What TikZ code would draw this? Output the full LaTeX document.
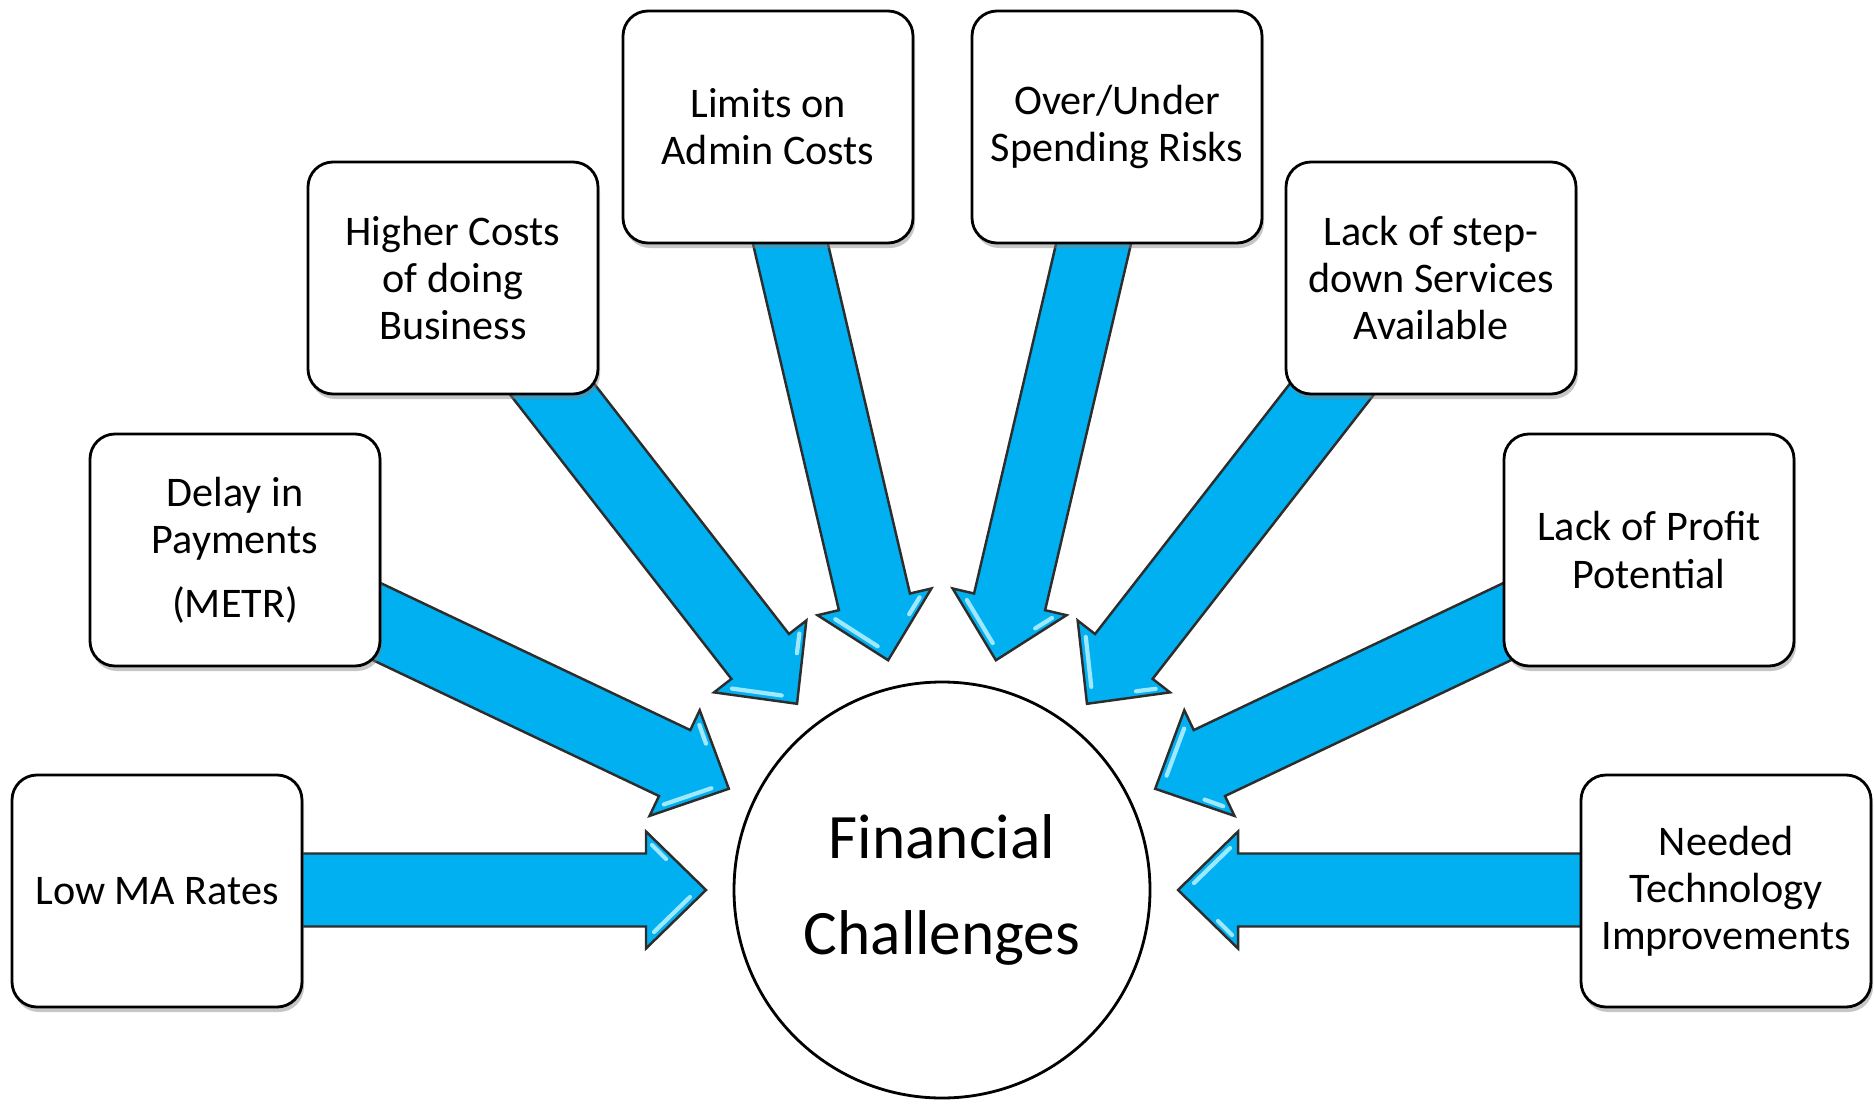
\documentclass[tikz,border=0pt]{standalone}
\usepackage{fontspec}
\setmainfont{Carlito}
\usepackage{tikz}
\usetikzlibrary{calc,shadows,positioning}
\usepackage{xcolor}

\definecolor{arrowblue}{RGB}{0,176,240}
\definecolor{glintblue}{RGB}{160,232,255}
\definecolor{rimgray}{RGB}{45,45,45}

\begin{document}
\begin{tikzpicture}
	[   bnode/.style={draw=black,fill=white,rounded corners=0.25cm,minimum width=2.9cm,minimum height=2.32cm,align=center,line width=0.8pt,font=\fontsize{12}{13.4}\selectfont,drop shadow={shadow xshift=0.02cm,shadow yshift=-0.05cm,fill=black!50,opacity=0.45}},
	    hub/.style={draw=black,fill=white,circle,minimum size=4.16cm,inner sep=0pt,align=center,line width=0.8pt,font=\fontsize{18}{27.5}\selectfont},
	]
	\tikzset{block arrow/.style={draw=rimgray,fill=arrowblue,line width=0.7pt,line join=miter}}
	\tikzset{glint/.style={draw=glintblue,line width=1.2pt,line cap=round}}
	\useasboundingbox (0,0) rectangle (18.74,-11.03);
	
	\node[hub] (fc) at (9.42,-8.90) {Financial\\Challenges};
	
	\foreach \a [count=\i] in {180,154.6,127.9,103.2,76.8,52.1,25.4,0}
	{
		\coordinate (t-\i) at ($(fc.center)+(\a:7.2)$);
		\path[block arrow] (t-\i) ++(\a+90:0.365)
			-- ($(fc.center)+(\a:2.96)+(\a+90:0.365)$)
			-- ($(fc.center)+(\a:2.96)+(\a+90:0.585)$)
			-- ($(fc.center)+(\a:2.36)$)
			-- ($(fc.center)+(\a:2.96)+(\a-90:0.585)$)
			-- ($(fc.center)+(\a:2.96)+(\a-90:0.365)$)
			-- ($(t-\i)+(\a-90:0.365)$) -- cycle;
		\path[glint] ($(fc.center)+(\a:2.52)+(\a+90:0.07)$) -- ($(fc.center)+(\a:2.88)+(\a+90:0.42)$);
		\path[glint] ($(fc.center)+(\a:2.76)+(\a-90:0.31)$) -- ($(fc.center)+(\a:2.90)+(\a-90:0.45)$);
	}
	
	\node[bnode] (f-1) at (1.57,-8.91) {Low MA Rates};
	\node[bnode] (f-2) at (2.35,-5.50) {Delay in\\Payments\\[4.9pt](METR)};
	\node[bnode] (f-3) at (4.53,-2.78) {Higher Costs\\of doing\\Business};
	\node[bnode] (f-4) at (7.68,-1.27) {Limits on\\Admin Costs};
	\node[bnode] (f-5) at (11.17,-1.27) {Over/Under\\Spending Risks};
	\node[bnode] (f-6) at (14.31,-2.78) {Lack of step-\\down Services\\Available};
	\node[bnode] (f-7) at (16.49,-5.50) {Lack of Profit\\Potential};
	\node[bnode] (f-8) at (17.26,-8.91) {Needed\\Technology\\Improvements};
\end{tikzpicture}
\end{document}
